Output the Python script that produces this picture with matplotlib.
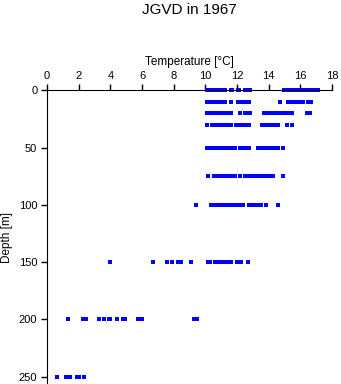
import numpy as np
import matplotlib
matplotlib.use("Agg")
import matplotlib.pyplot as plt

plt.rcParams['font.family'] = ['Liberation Sans', 'DejaVu Sans']

depths = [0, 10, 20, 30, 50, 75, 100, 150, 200, 250]
t_0 = [10.1, 10.2, 10.35, 10.45, 10.65, 10.75, 10.85, 10.95, 11.05, 11.15, 11.25,
       11.6, 11.7, 12.05, 12.15, 12.5, 12.6, 12.7, 12.8, 14.95, 15.25, 15.35,
       15.6, 15.7, 15.8, 15.9, 16.0, 16.1, 16.2, 16.3, 16.4, 16.5, 16.6, 16.7,
       16.8, 16.9, 17.0, 17.1]
t_10 = [10.1, 10.2, 10.3, 10.4, 10.5, 10.6, 10.7, 10.8, 10.9, 11.0, 11.1, 11.25,
        11.6, 12.05, 12.15, 12.35, 12.45, 12.55, 12.65, 12.75, 14.7, 15.2,
        15.4, 15.5, 15.6, 15.7, 15.8, 15.9, 16.0, 16.15, 16.5, 16.65]
t_20 = [10.1, 10.2, 10.3, 10.4, 10.5, 10.6, 10.7, 10.8, 10.9, 11.0, 11.1, 11.2,
        11.35, 11.6, 12.2, 12.5, 12.6, 12.7, 12.8, 13.7, 13.95, 14.05, 14.15,
        14.25, 14.35, 14.45, 14.55, 14.75, 14.85, 14.95, 15.05, 15.15, 15.3,
        15.5, 16.4, 16.6]
t_30 = [10.1, 10.45, 10.55, 10.65, 10.75, 10.85, 10.95, 11.05, 11.15, 11.25,
        11.35, 11.45, 11.55, 11.65, 11.95, 12.1, 12.35, 12.45, 12.55, 12.65,
        12.75, 13.55, 13.65, 13.8, 14.05, 14.15, 14.25, 14.35, 14.45, 14.6,
        15.15, 15.45]
t_50 = [10.1, 10.35, 10.45, 10.55, 10.65, 10.75, 10.85, 10.95, 11.05, 11.15,
        11.25, 11.35, 11.45, 11.55, 11.65, 11.85, 12.2, 12.3, 12.4, 12.5, 12.6,
        12.75, 13.3, 13.4, 13.5, 13.6, 13.7, 13.8, 13.9, 14.0, 14.1, 14.2,
        14.35, 14.6, 14.9]
t_75 = [10.2, 10.55, 10.65, 10.75, 10.85, 10.95, 11.05, 11.15, 11.25, 11.35,
        11.45, 11.55, 11.7, 11.85, 12.2, 12.5, 12.6, 12.75, 12.9, 13.05, 13.15,
        13.25, 13.35, 13.45, 13.55, 13.65, 13.75, 13.85, 13.95, 14.05, 14.15,
        14.25, 14.9]
t_100 = [9.4, 10.35, 10.45, 10.55, 10.65, 10.75, 10.85, 10.95, 11.05, 11.15,
         11.25, 11.35, 11.45, 11.55, 11.65, 11.75, 11.9, 12.0, 12.2, 12.35,
         12.75, 12.85, 12.95, 13.05, 13.15, 13.25, 13.35, 13.5, 13.8, 14.6]
t_150 = [4.0, 6.7, 7.6, 7.9, 8.3, 8.45, 9.1, 10.2, 10.3, 10.6, 10.7, 10.8, 10.9,
         11.0, 11.1, 11.2, 11.35, 11.6, 12.0, 12.1, 12.25, 12.7]
t_200 = [1.35, 2.3, 2.45, 3.3, 3.6, 3.9, 4.0, 4.45, 4.8, 4.95, 5.75, 5.9, 6.0,
         9.3, 9.5]
t_250 = [0.65, 1.2, 1.3, 1.45, 1.9, 2.05, 2.35]
temps = [t_0, t_10, t_20, t_30, t_50, t_75, t_100, t_150, t_200, t_250]

fig = plt.figure(figsize=(3.41, 3.84), dpi=100)
ax = fig.add_axes([47 / 341, 0.0, 285 / 341, 1 - 90.3 / 384])

for d, ts in zip(depths, temps):
    ax.plot(ts, [d] * len(ts), 's', color='#0000ff', markersize=2.3,
            markeredgewidth=0, clip_on=False)

ax.set_xlim(0, 18)
ax.set_ylim(256.3, 0)
ax.set_xticks(np.arange(0, 19, 2))
ax.set_yticks(np.arange(0, 251, 50))
ax.xaxis.tick_top()
ax.xaxis.set_label_position('top')
ax.spines['right'].set_visible(False)
ax.spines['bottom'].set_visible(False)
ax.tick_params(direction='out', length=4, width=1, labelsize=8, pad=3, colors='black')
ax.set_xlabel('Temperature [°C]', fontsize=8.5, labelpad=4)
ax.set_ylabel('Depth [m]', fontsize=8.5, labelpad=4)
fig.suptitle('JGVD in 1967', x=189.5 / 341, y=1 - 3 / 384, va='top', fontsize=11)

fig.savefig('out.png', dpi=100)
